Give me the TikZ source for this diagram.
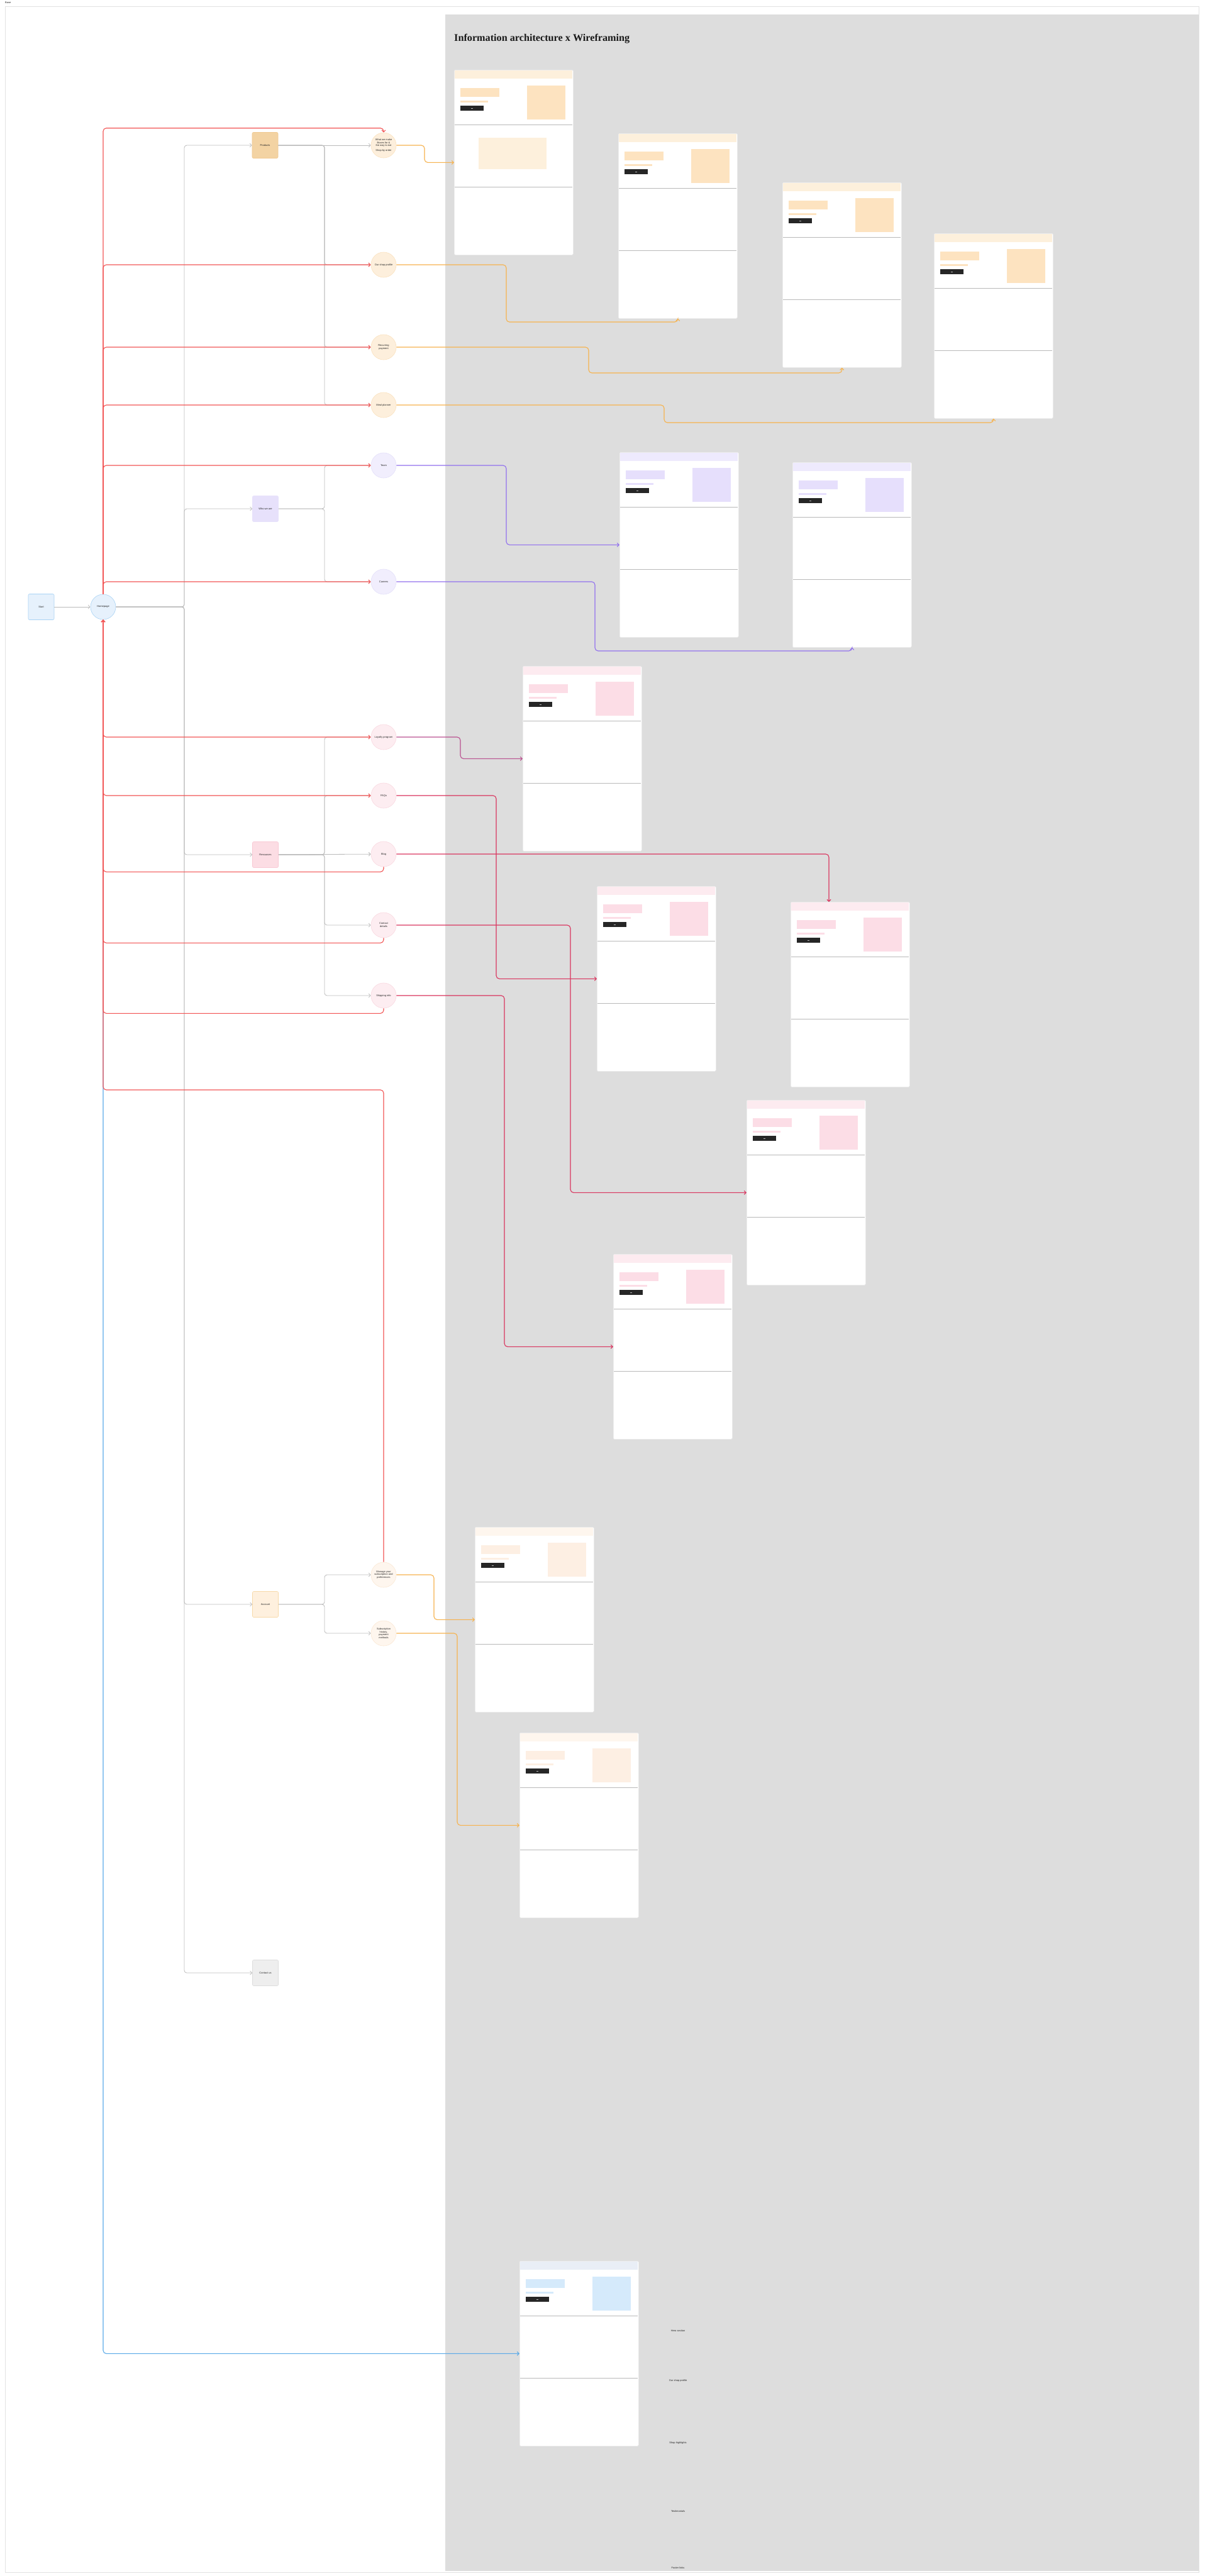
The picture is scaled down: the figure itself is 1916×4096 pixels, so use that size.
\documentclass[tikz,border=0pt]{standalone}
\usepackage{fontspec}
\setmainfont{Liberation Serif}
\setsansfont{Liberation Sans}
\usetikzlibrary{arrows.meta}
\definecolor{panel}{HTML}{DDDDDD}
\definecolor{frameln}{HTML}{E2E2E2}
\definecolor{gline}{HTML}{BBBBBB}
\definecolor{redl}{HTML}{F25555}
\definecolor{orl}{HTML}{F6B24E}
\definecolor{pul}{HTML}{9170EE}
\definecolor{pkl}{HTML}{D9355E}
\definecolor{mgl}{HTML}{B9508F}
\definecolor{bll}{HTML}{5AAAE8}
\definecolor{wfborder}{HTML}{EBEBEB}
\definecolor{oh}{HTML}{FDF0DC}\definecolor{oa}{HTML}{FDE3C0}
\definecolor{ph}{HTML}{EEEAFD}\definecolor{pa}{HTML}{E6DFFC}
\definecolor{kh}{HTML}{FDEBF0}\definecolor{ka}{HTML}{FCDDE6}
\definecolor{ch}{HTML}{FEF6EE}\definecolor{ca}{HTML}{FDEFE3}
\definecolor{bh}{HTML}{E9EEF6}\definecolor{ba}{HTML}{D5EAFB}
\definecolor{ocf}{HTML}{FDEFDC}\definecolor{ocd}{HTML}{FBE2BE}
\definecolor{pcf}{HTML}{F1EEFD}\definecolor{pcd}{HTML}{E4E0FA}
\definecolor{kcf}{HTML}{FDEDF1}\definecolor{kcd}{HTML}{FAD8E0}
\definecolor{ccf}{HTML}{FEF6EE}\definecolor{ccd}{HTML}{FBE8D4}
\definecolor{bcf}{HTML}{E6F1FC}\definecolor{bcd}{HTML}{A9D3F5}
\definecolor{bPf}{HTML}{F3D3A3}\definecolor{bPd}{HTML}{F0C890}
\definecolor{bAf}{HTML}{E7E1FB}
\definecolor{bRf}{HTML}{FCDDE4}\definecolor{bRd}{HTML}{F9C8D4}
\definecolor{bCf}{HTML}{FEF0DE}\definecolor{bCd}{HTML}{F8D9A8}
\definecolor{bGf}{HTML}{EEEEEE}\definecolor{bGd}{HTML}{DDDDDD}
\newcommand\mywire[5]{%
  \node[draw=wfborder, fill=white, line width=0.6pt, rounded corners=1.5pt,
        minimum width=189pt, minimum height=294pt, inner sep=0pt,
        anchor=north west] (#1) at (#2,#3) {};
  \begin{scope}[shift={(#2,#3)}]
    \fill[#4] (0.6,0.6) rectangle (188.4,14);
    \fill[#5] (10,29) rectangle (72,43);
    \fill[#5] (10,49) rectangle (54,52);
    \fill[black!85] (10,57) rectangle (47,65);
    \fill[gray!60] (27,60.5) rectangle (30,61.5);
    \fill[#5] (116,25) rectangle (177,79);
    \draw[gray!55, line width=0.6pt] (1,87) -- (188,87);
    \draw[gray!55, line width=0.6pt] (1,186) -- (188,186);
  \end{scope}}
\begin{document}
\begin{tikzpicture}[x=1pt,y=-1pt,
  lbl/.style={font=\sffamily\fontsize{4}{4.8}\selectfont, align=center, text=black!85},
  circ/.style={circle, minimum size=40pt, inner sep=0pt, line width=0.6pt, lbl},
  sq/.style={rectangle, rounded corners=2pt, minimum width=41pt, minimum height=41pt, inner sep=0pt, line width=0.6pt, lbl},
  tip/.style={-{Straight Barb[length=3pt,width=6pt]}},
  gl/.style={draw=gline, line width=0.8pt, rounded corners=4pt, tip},
  rl/.style={draw=redl, line width=1.1pt, rounded corners=5pt, tip},
  cl/.style={line width=1.1pt, rounded corners=5pt, tip},
]
\useasboundingbox (0,0) rectangle (1916,4096);
\fill[white] (0,0) rectangle (1916,4096);
\node[lbl, anchor=north west, inner sep=0pt] (base) at (8,3) {Base};
\draw[frameln, line width=0.8pt] (8,10) rectangle (1906,4090);
\fill[panel] (708,23) rectangle (1906,4088);
\node[anchor=north west, inner sep=0pt, font=\bfseries\fontsize{16.2}{19}\selectfont, text=black!90] (title) at (722,54) {Information architecture x Wireframing};

% wireframes
\mywire{W1}{722}{111}{oh}{oa}
\fill[oh] (761,219) rectangle (869,269);
\mywire{W2}{983}{212}{oh}{oa}
\mywire{W3}{1244}{290}{oh}{oa}
\mywire{W4}{1485}{371}{oh}{oa}
\mywire{W5}{985}{719}{ph}{pa}
\mywire{W6}{1260}{735}{ph}{pa}
\mywire{W7}{831}{1059}{kh}{ka}
\mywire{W8}{949}{1409}{kh}{ka}
\mywire{W9}{1257}{1434}{kh}{ka}
\mywire{W10}{1187}{1749}{kh}{ka}
\mywire{W11}{975}{1994}{kh}{ka}
\mywire{W12}{755}{2428}{ch}{ca}
\mywire{W13}{826}{2755}{ch}{ca}
\mywire{W14}{826}{3595}{bh}{ba}

% annotations near home wireframe
\node[lbl] (n1) at (1078,3706) {Hero section};
\node[lbl] (n2) at (1078,3785) {Our shop profile};
\node[lbl] (n3) at (1078,3884) {Shop highlights};
\node[lbl] (n4) at (1078,3993) {Testimonials};
\node[lbl] (n5) at (1078,4083) {Footer links};

% tree nodes
\node[sq, fill=bcf, draw=bcd] (start) at (65.5,965) {Start};
\node[circ, fill=bcf, draw=bcd] (home) at (164,965) {Homepage};
\node[sq, fill=bPf, draw=bPd] (bP) at (421.5,231) {Products};
\node[sq, fill=bAf, draw=bAf] (bA) at (422,809) {Who we are};
\node[sq, fill=bRf, draw=bRd] (bR) at (422,1359) {Resources};
\node[sq, fill=bCf, draw=bCd] (bAc) at (422,2551) {Account};
\node[sq, fill=bGf, draw=bGd] (bC) at (422,3137) {Contact us};

\node[circ, fill=ocf, draw=ocd] (P1) at (610,231) {What we make\\Boxes for \&\\the way to eat\\[3pt]Shop by order};
\node[circ, fill=ocf, draw=ocd] (P2) at (610,421) {Our shop profile};
\node[circ, fill=ocf, draw=ocd] (P3) at (610,552) {Recurring\\payment};
\node[circ, fill=ocf, draw=ocd] (P4) at (610,644) {Meal planner};
\node[circ, fill=pcf, draw=pcd] (A1) at (610,740) {Team};
\node[circ, fill=pcf, draw=pcd] (A2) at (610,925) {Careers};
\node[circ, fill=kcf, draw=kcd] (R1) at (610,1172) {Loyalty program};
\node[circ, fill=kcf, draw=kcd] (R2) at (610,1265) {FAQs};
\node[circ, fill=kcf, draw=kcd] (R3) at (610,1358) {Blog};
\node[circ, fill=kcf, draw=kcd] (R4) at (610,1471) {Contact\\details};
\node[circ, fill=kcf, draw=kcd] (R5) at (610,1583) {Shipping info};
\node[circ, fill=ccf, draw=ccd] (C1) at (610,2504) {Manage your\\subscription and\\preferences};
\node[circ, fill=ccf, draw=ccd] (C2) at (610,2597) {Subscription\\history,\\payment\\methods};

% gray tree connectors
\draw[gl] (start) -- (home);
\foreach \b in {bP,bA,bR,bAc,bC} \draw[gl] (home.east) -- (293,965) |- (\b.west);
\draw[gl] (bP) -- (P1);
\foreach \c in {P2,P3,P4} \draw[gl] (bP.east) -- (516,231) |- (\c.west);
\foreach \c in {A1,A2} \draw[gl] (bA.east) -- (516,809) |- (\c.west);
\draw[gl] (bR) -- (R3);
\foreach \c in {R1,R2,R4,R5} \draw[gl] (bR.east) -- (516,1359) |- (\c.west);
\foreach \c in {C1,C2} \draw[gl] (bAc.east) -- (516,2551) |- (\c.west);

% blue connector (home to home wireframe)
\draw[cl, draw=bll] (home.south) |- (W14.west);

% red connectors
\draw[rl] (home.north) |- ([yshift=7pt]P1.north) -- (P1.north);
\foreach \c in {P2,P3,P4,A1,A2} \draw[rl] (home.north) |- (\c.west);
\foreach \c in {R1,R2} \draw[rl] (home.south) |- (\c.west);
\foreach \c in {R3,R4,R5} \draw[rl] (\c.south) -- ++(0,8) -| (home.south);
\coordinate (acc) at (610,1733);
\draw[rl] (C1.north) -- (acc) -| (home.south);

% wireframe connectors
\coordinate (w9in) at (1318,1434);
\draw[cl, draw=orl] (P1.east) -- (675,231) |- (W1.west);
\draw[cl, draw=orl] (P2.east) -| (805,512) -| (W2.south);
\draw[cl, draw=orl] (P3.east) -| (936,593) -| (W3.south);
\draw[cl, draw=orl] (P4.east) -| (1056,672) -| (W4.south);
\draw[cl, draw=pul] (A1.east) -- (805,740) |- (W5.west);
\draw[cl, draw=pul] (A2.east) -| (946,1035) -| (W6.south);
\draw[cl, draw=mgl] (R1.east) -- (732,1172) |- (W7.west);
\draw[cl, draw=pkl] (R2.east) -- (789,1265) |- (W8.west);
\draw[cl, draw=pkl] (R3.east) -| (w9in);
\draw[cl, draw=pkl] (R4.east) -- (907,1471) |- (W10.west);
\draw[cl, draw=pkl] (R5.east) -- (802,1583) |- (W11.west);
\draw[cl, draw=orl] (C1.east) -- (690,2504) |- (W12.west);
\draw[cl, draw=orl] (C2.east) -- (727,2597) |- (W13.west);
\end{tikzpicture}
\end{document}
